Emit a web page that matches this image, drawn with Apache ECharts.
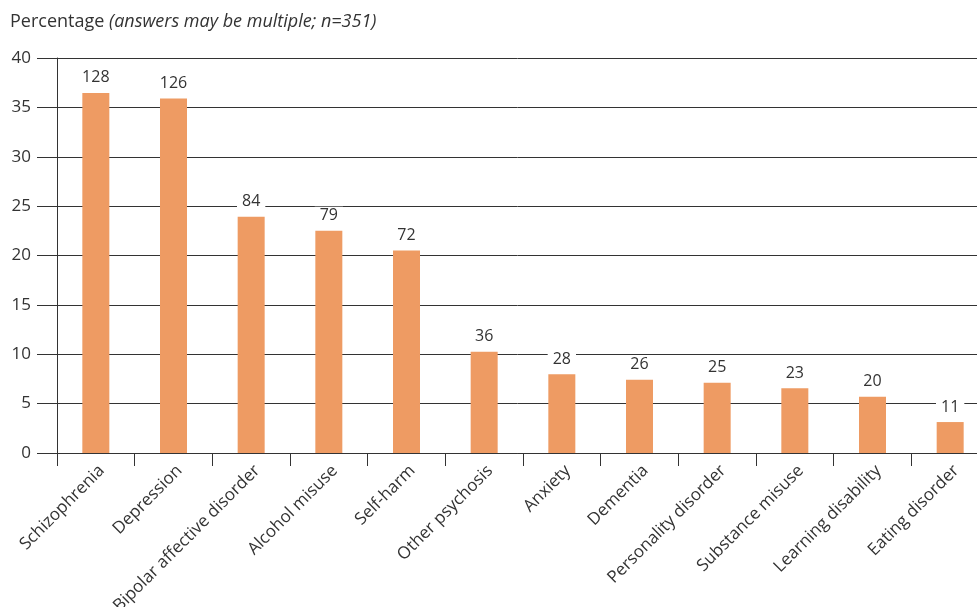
<!DOCTYPE html>
<html>
<head>
<meta charset="utf-8">
<script src="https://cdn.jsdelivr.net/npm/echarts@6/dist/echarts.min.js"></script>
<style>
  html, body { margin: 0; padding: 0; background: #fff; overflow: hidden; }
  #chart { width: 977px; height: 607px; }
</style>
</head>
<body>
<div id="chart"></div>
<script>
// Diagnoses reported by respondents (multiple answers allowed)
const categories = [
  'Schizophrenia', 'Depression', 'Bipolar affective disorder', 'Alcohol misuse',
  'Self-harm', 'Other psychosis', 'Anxiety', 'Dementia', 'Personality disorder',
  'Substance misuse', 'Learning disability', 'Eating disorder'
];
const counts = [128, 126, 84, 79, 72, 36, 28, 26, 25, 23, 20, 11];
const respondents = 351;
const yTicks = [0, 5, 10, 15, 20, 25, 30, 35, 40];

// Bar height is the share of respondents; the label shows the raw count
const percentages = counts.map(c => c / respondents * 100);

const FONT = '"Open Sans", "Noto Sans", sans-serif';
const INK = '#333333';

const chart = echarts.init(document.getElementById('chart'));
chart.setOption({
  animation: false,
  textStyle: { fontFamily: FONT },
  title: {
    left: 10, top: 13, padding: 0,
    text: '{n|Percentage }{i|(answers may be multiple; n=351)}',
    textStyle: {
      fontWeight: 'normal',
      rich: {
        n: { fontFamily: FONT, fontSize: 18, color: INK, fontWeight: 'normal' },
        i: { fontFamily: FONT, fontSize: 18, color: INK, fontStyle: 'italic', fontWeight: 'normal' }
      }
    }
  },
  // plot area runs slightly past the right edge of the canvas
  grid: {
    left: 57, right: -12, top: 58, bottom: 154,
    containLabel: false, outerBoundsMode: 'none'
  },
  xAxis: {
    type: 'category',
    data: categories,
    axisLine: { lineStyle: { color: INK, width: 1 } },
    axisTick: { show: true, length: 13, alignWithLabel: false, lineStyle: { color: INK } },
    axisLabel: {
      rotate: 45, interval: 0, margin: 9,
      verticalAlign: 'top',
      fontSize: 17, color: INK, fontFamily: FONT
    }
  },
  yAxis: {
    type: 'value',
    min: yTicks[0], max: yTicks[yTicks.length - 1], interval: 5,
    axisLine: { show: true, lineStyle: { color: INK, width: 1 } },
    axisTick: { show: true, length: 20, lineStyle: { color: INK } },
    axisLabel: { fontSize: 17, color: INK, margin: 26, fontFamily: FONT },
    splitLine: { show: true, lineStyle: { color: INK, width: 1 } }
  },
  series: [{
    type: 'bar',
    data: percentages,
    barWidth: 27,
    itemStyle: { color: '#EE9B63' },
    label: {
      show: true,
      position: 'top',
      distance: 6,
      formatter: p => counts[p.dataIndex],
      fontSize: 16, color: INK, fontFamily: FONT,
      backgroundColor: '#ffffff',
      padding: [1, 5]
    }
  }]
});
</script>
</body>
</html>
